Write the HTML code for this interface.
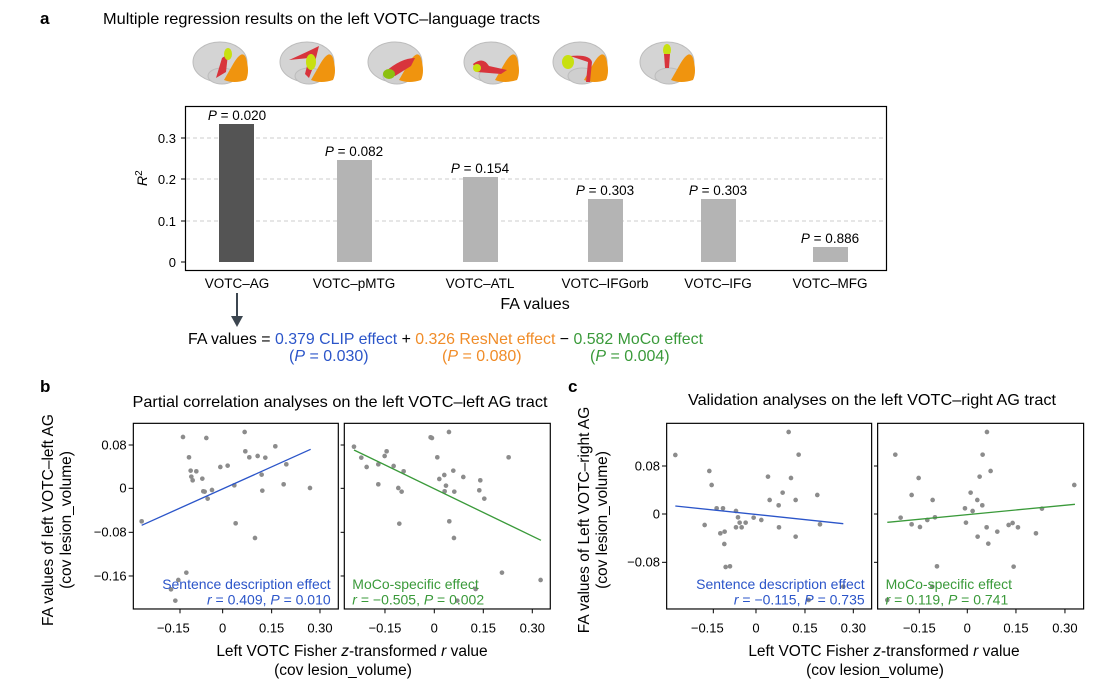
<!DOCTYPE html>
<html><head><meta charset="utf-8"><style>
body{margin:0;background:#fff;}
svg{display:block;font-family:"Liberation Sans",sans-serif;}
</style></head><body>
<svg width="1108" height="684" viewBox="0 0 1108 684" xmlns="http://www.w3.org/2000/svg">
<defs>
<g id="brain">
<ellipse cx="0" cy="0" rx="27" ry="20" fill="#d4d4d4" stroke="#bcbcbc"/>
<ellipse cx="2" cy="14" rx="14" ry="8" fill="#cfcfcf" stroke="#bcbcbc"/>
<path d="M12,4 Q22,-14 26,-4 Q30,10 26,18 Q14,22 4,18 Z" fill="#f0940e"/>
</g>
</defs>
<g transform="translate(220,62)"><use href="#brain"/><path d="M2,-4 L8,-8 L6,10 L-4,16 Z" fill="#d8343c"/><ellipse cx="8" cy="-8" rx="4" ry="6" fill="#c8e010"/></g>
<g transform="translate(307,62)"><use href="#brain"/><path d="M-18,-2 Q0,-10 12,-16 L8,0 L2,16 L-2,12 L2,-4 Z" fill="#d8343c"/><ellipse cx="4" cy="0" rx="5" ry="8" fill="#c8e010"/></g>
<g transform="translate(395,62)"><use href="#brain"/><path d="M-10,10 Q6,-4 20,-4 L16,4 L0,14 Z" fill="#d8343c"/><ellipse cx="-6" cy="12" rx="6" ry="5" fill="#8cc010"/></g>
<g transform="translate(491,62)"><use href="#brain"/><path d="M-18,2 Q-8,-6 -2,4 L16,8 L10,12 L-14,10 Z" fill="#d8343c"/><ellipse cx="-14" cy="6" rx="4" ry="4" fill="#c8e010"/></g>
<g transform="translate(580,62)"><use href="#brain"/><path d="M-10,-6 Q10,-8 12,0 L10,20 L6,20 L8,0 Z" fill="#d8343c"/><ellipse cx="-12" cy="0" rx="6" ry="7" fill="#c8e010"/></g>
<g transform="translate(667,62)"><use href="#brain"/><ellipse cx="0" cy="-12" rx="4" ry="6" fill="#c8e010"/><path d="M-3,-8 L3,-8 L2,6 L-2,6 Z" fill="#d8343c"/></g>

<text x="40" y="24" font-size="17" font-weight="bold">a</text>
<text x="103" y="24" font-size="16" textLength="437" lengthAdjust="spacingAndGlyphs">Multiple regression results on the left VOTC–language tracts</text>

<rect x="185.5" y="106.5" width="701" height="164" fill="none" stroke="#000" stroke-width="1.2"/>
<g stroke="#ccc" stroke-dasharray="4,3"><line x1="186" x2="886" y1="221" y2="221"/><line x1="186" x2="886" y1="179" y2="179"/><line x1="186" x2="886" y1="138" y2="138"/></g>
<g stroke="#000"><line x1="181" x2="186" y1="262" y2="262"/><line x1="181" x2="186" y1="221" y2="221"/><line x1="181" x2="186" y1="179" y2="179"/><line x1="181" x2="186" y1="138" y2="138"/></g>
<g font-size="13" text-anchor="end"><text x="176" y="267">0</text><text x="176" y="226">0.1</text><text x="176" y="184">0.2</text><text x="176" y="143">0.3</text></g>
<text transform="translate(147,186) rotate(-90)" font-size="14" font-style="italic">R<tspan font-size="10" dy="-5" font-style="normal">2</tspan></text>
<rect x="219" y="124" width="35" height="138" fill="#545454"/>
<rect x="337" y="160" width="35" height="102" fill="#b4b4b4"/>
<rect x="463" y="177" width="35" height="85" fill="#b4b4b4"/>
<rect x="588" y="199" width="35" height="63" fill="#b4b4b4"/>
<rect x="701" y="199" width="35" height="63" fill="#b4b4b4"/>
<rect x="813" y="247" width="35" height="15" fill="#b4b4b4"/>
<g font-size="13.5" text-anchor="middle">
<text x="237" y="120"><tspan font-style="italic">P</tspan> = 0.020</text>
<text x="354" y="156"><tspan font-style="italic">P</tspan> = 0.082</text>
<text x="480" y="173"><tspan font-style="italic">P</tspan> = 0.154</text>
<text x="605" y="195"><tspan font-style="italic">P</tspan> = 0.303</text>
<text x="718" y="195"><tspan font-style="italic">P</tspan> = 0.303</text>
<text x="830" y="243"><tspan font-style="italic">P</tspan> = 0.886</text>
<text x="237" y="288">VOTC–AG</text><text x="354" y="288">VOTC–pMTG</text><text x="480" y="288">VOTC–ATL</text>
<text x="605" y="288">VOTC–IFGorb</text><text x="718" y="288">VOTC–IFG</text><text x="830" y="288">VOTC–MFG</text>
<text x="535" y="309" font-size="16">FA values</text>
</g>
<line x1="237" y1="293" x2="237" y2="318" stroke="#3c4650" stroke-width="2"/>
<path d="M231,316 L243,316 L237,327 Z" fill="#3c4650"/>
<g font-size="16">
<text x="188" y="344" textLength="515" lengthAdjust="spacingAndGlyphs">FA values = <tspan fill="#2b55c9">0.379 CLIP effect</tspan> + <tspan fill="#f08c28">0.326 ResNet effect</tspan> − <tspan fill="#3a9a3a">0.582 MoCo effect</tspan></text>
<text x="289" y="361" fill="#2b55c9">(<tspan font-style="italic">P</tspan> = 0.030)</text>
<text x="442" y="361" fill="#f08c28">(<tspan font-style="italic">P</tspan> = 0.080)</text>
<text x="590" y="361" fill="#3a9a3a">(<tspan font-style="italic">P</tspan> = 0.004)</text>
</g>

<text x="40" y="392" font-size="17" font-weight="bold">b</text>
<text x="340" y="407" font-size="16" text-anchor="middle" textLength="415" lengthAdjust="spacingAndGlyphs">Partial correlation analyses on the left VOTC–left AG tract</text>
<text transform="translate(53,520) rotate(-90)" font-size="15.5" text-anchor="middle">FA values of left VOTC–left AG</text>
<text transform="translate(71,520) rotate(-90)" font-size="15.5" text-anchor="middle">(cov lesion_volume)</text>
<text x="352" y="656" font-size="15.5" text-anchor="middle">Left VOTC Fisher <tspan font-style="italic">z</tspan>-transformed <tspan font-style="italic">r</tspan> value</text>
<text x="343" y="675" font-size="15.5" text-anchor="middle">(cov lesion_volume)</text>
<g transform="translate(90,410) scale(0.3333)">
<rect x="130" y="40" width="615" height="557" fill="none" stroke="#000" stroke-width="3.5"/>
<rect x="763" y="40" width="618" height="557" fill="none" stroke="#000" stroke-width="3.5"/>
<g stroke="#000" stroke-width="3">
<line x1="116" x2="130" y1="105" y2="105"/><line x1="116" x2="130" y1="235" y2="235"/><line x1="116" x2="130" y1="367" y2="367"/><line x1="116" x2="130" y1="498" y2="498"/>
<line x1="752" x2="763" y1="105" y2="105"/><line x1="752" x2="763" y1="235" y2="235"/><line x1="752" x2="763" y1="367" y2="367"/><line x1="752" x2="763" y1="498" y2="498"/>
<line x1="270" x2="270" y1="597" y2="610"/><line x1="398" x2="398" y1="597" y2="610"/><line x1="545" x2="545" y1="597" y2="610"/><line x1="690" x2="690" y1="597" y2="610"/>
<line x1="885" x2="885" y1="597" y2="610"/><line x1="1033" x2="1033" y1="597" y2="610"/><line x1="1180" x2="1180" y1="597" y2="610"/><line x1="1327" x2="1327" y1="597" y2="610"/>
</g>
<g font-size="39" text-anchor="end"><text x="110" y="118">0.08</text><text x="110" y="248">0</text><text x="110" y="380">−0.08</text><text x="110" y="511">−0.16</text></g>
<g font-size="39" text-anchor="middle"><text x="250" y="668">−0.15</text><text x="398" y="668">0</text><text x="545" y="668">0.15</text><text x="690" y="668">0.30</text>
<text x="885" y="668">−0.15</text><text x="1033" y="668">0</text><text x="1180" y="668">0.15</text><text x="1327" y="668">0.30</text></g>
<g fill="#8c8c8c">
<circle cx="155" cy="334" r="7"/><circle cx="279" cy="81" r="7"/><circle cx="297" cy="142" r="7"/><circle cx="302" cy="182" r="7"/><circle cx="304" cy="200" r="7"/><circle cx="308" cy="211" r="7"/><circle cx="319" cy="184" r="7"/><circle cx="337" cy="206" r="7"/><circle cx="340" cy="244" r="7"/><circle cx="344" cy="245" r="7"/><circle cx="349" cy="84" r="7"/><circle cx="353" cy="266" r="7"/><circle cx="366" cy="240" r="7"/><circle cx="391" cy="171" r="7"/><circle cx="413" cy="167" r="7"/><circle cx="433" cy="226" r="7"/><circle cx="437" cy="340" r="7"/><circle cx="464" cy="66" r="7"/><circle cx="466" cy="124" r="7"/><circle cx="478" cy="142" r="7"/><circle cx="495" cy="384" r="7"/><circle cx="503" cy="138" r="7"/><circle cx="515" cy="194" r="7"/><circle cx="517" cy="242" r="7"/><circle cx="526" cy="143" r="7"/><circle cx="556" cy="109" r="7"/><circle cx="581" cy="223" r="7"/><circle cx="589" cy="163" r="7"/><circle cx="660" cy="234" r="7"/><circle cx="289" cy="488" r="7"/><circle cx="265" cy="510" r="7"/><circle cx="243" cy="538" r="7"/><circle cx="256" cy="572" r="7"/>
<circle cx="792" cy="110" r="7"/><circle cx="814" cy="143" r="7"/><circle cx="830" cy="171" r="7"/><circle cx="865" cy="163" r="7"/><circle cx="865" cy="223" r="7"/><circle cx="884" cy="138" r="7"/><circle cx="890" cy="124" r="7"/><circle cx="911" cy="168" r="7"/><circle cx="925" cy="234" r="7"/><circle cx="928" cy="341" r="7"/><circle cx="935" cy="245" r="7"/><circle cx="941" cy="184" r="7"/><circle cx="1022" cy="82" r="7"/><circle cx="1026" cy="84" r="7"/><circle cx="1042" cy="142" r="7"/><circle cx="1048" cy="207" r="7"/><circle cx="1063" cy="195" r="7"/><circle cx="1064" cy="244" r="7"/><circle cx="1068" cy="227" r="7"/><circle cx="1077" cy="66" r="7"/><circle cx="1078" cy="334" r="7"/><circle cx="1090" cy="182" r="7"/><circle cx="1092" cy="384" r="7"/><circle cx="1093" cy="245" r="7"/><circle cx="1120" cy="201" r="7"/><circle cx="1168" cy="241" r="7"/><circle cx="1171" cy="211" r="7"/><circle cx="1183" cy="266" r="7"/><circle cx="1236" cy="488" r="7"/><circle cx="1256" cy="142" r="7"/><circle cx="1352" cy="510" r="7"/><circle cx="1157" cy="537" r="7"/><circle cx="1102" cy="572" r="7"/>
</g>
<line x1="155" y1="346" x2="662" y2="118" stroke="#2b55c9" stroke-width="4"/>
<line x1="792" y1="120" x2="1353" y2="391" stroke="#3a9a3a" stroke-width="4"/>
<text x="722" y="537" font-size="42" fill="#2b55c9" text-anchor="end">Sentence description effect</text>
<text x="722" y="583" font-size="42" fill="#2b55c9" text-anchor="end"><tspan font-style="italic">r</tspan> = 0.409, <tspan font-style="italic">P</tspan> = 0.010</text>
<text x="787" y="537" font-size="42" fill="#3a9a3a">MoCo-specific effect</text>
<text x="787" y="583" font-size="42" fill="#3a9a3a"><tspan font-style="italic">r</tspan> = −0.505, <tspan font-style="italic">P</tspan> = 0.002</text>
</g>

<text x="568" y="392" font-size="17" font-weight="bold">c</text>
<text x="872" y="405" font-size="16" text-anchor="middle" textLength="368" lengthAdjust="spacingAndGlyphs">Validation analyses on the left VOTC–right AG tract</text>
<text transform="translate(589,520) rotate(-90)" font-size="15.5" text-anchor="middle">FA values of Left VOTC–right AG</text>
<text transform="translate(607,520) rotate(-90)" font-size="15.5" text-anchor="middle">(cov lesion_volume)</text>
<text x="884" y="656" font-size="15.5" text-anchor="middle">Left VOTC Fisher <tspan font-style="italic">z</tspan>-transformed <tspan font-style="italic">r</tspan> value</text>
<text x="875" y="675" font-size="15.5" text-anchor="middle">(cov lesion_volume)</text>
<g transform="translate(570,410) scale(0.3333)">
<rect x="290" y="40" width="615" height="557" fill="none" stroke="#000" stroke-width="3.5"/>
<rect x="923" y="40" width="618" height="557" fill="none" stroke="#000" stroke-width="3.5"/>
<g stroke="#000" stroke-width="3">
<line x1="276" x2="290" y1="168" y2="168"/><line x1="276" x2="290" y1="312" y2="312"/><line x1="276" x2="290" y1="457" y2="457"/>
<line x1="912" x2="923" y1="168" y2="168"/><line x1="912" x2="923" y1="312" y2="312"/><line x1="912" x2="923" y1="457" y2="457"/>
<line x1="430" x2="430" y1="597" y2="610"/><line x1="558" x2="558" y1="597" y2="610"/><line x1="705" x2="705" y1="597" y2="610"/><line x1="850" x2="850" y1="597" y2="610"/>
<line x1="1048" x2="1048" y1="597" y2="610"/><line x1="1192" x2="1192" y1="597" y2="610"/><line x1="1338" x2="1338" y1="597" y2="610"/><line x1="1485" x2="1485" y1="597" y2="610"/>
</g>
<g font-size="39" text-anchor="end"><text x="270" y="181">0.08</text><text x="270" y="325">0</text><text x="270" y="470">−0.08</text></g>
<g font-size="39" text-anchor="middle"><text x="412" y="668">−0.15</text><text x="558" y="668">0</text><text x="705" y="668">0.15</text><text x="850" y="668">0.30</text>
<text x="1048" y="668">−0.15</text><text x="1192" y="668">0</text><text x="1338" y="668">0.15</text><text x="1485" y="668">0.30</text></g>
<g fill="#8c8c8c">
<circle cx="316" cy="135" r="7"/><circle cx="404" cy="345" r="7"/><circle cx="418" cy="183" r="7"/><circle cx="425" cy="225" r="7"/><circle cx="440" cy="295" r="7"/><circle cx="451" cy="370" r="7"/><circle cx="459" cy="295" r="7"/><circle cx="463" cy="402" r="7"/><circle cx="464" cy="365" r="7"/><circle cx="467" cy="471" r="7"/><circle cx="480" cy="469" r="7"/><circle cx="498" cy="303" r="7"/><circle cx="498" cy="352" r="7"/><circle cx="504" cy="322" r="7"/><circle cx="509" cy="338" r="7"/><circle cx="515" cy="352" r="7"/><circle cx="527" cy="338" r="7"/><circle cx="551" cy="323" r="7"/><circle cx="574" cy="330" r="7"/><circle cx="594" cy="200" r="7"/><circle cx="599" cy="270" r="7"/><circle cx="626" cy="286" r="7"/><circle cx="627" cy="352" r="7"/><circle cx="638" cy="248" r="7"/><circle cx="656" cy="66" r="7"/><circle cx="663" cy="204" r="7"/><circle cx="677" cy="270" r="7"/><circle cx="677" cy="380" r="7"/><circle cx="686" cy="134" r="7"/><circle cx="742" cy="255" r="7"/><circle cx="750" cy="343" r="7"/><circle cx="716" cy="570" r="7"/><circle cx="820" cy="530" r="7"/>
<circle cx="976" cy="134" r="7"/><circle cx="992" cy="323" r="7"/><circle cx="1025" cy="255" r="7"/><circle cx="1025" cy="343" r="7"/><circle cx="1046" cy="204" r="7"/><circle cx="1050" cy="351" r="7"/><circle cx="1072" cy="330" r="7"/><circle cx="1088" cy="270" r="7"/><circle cx="1095" cy="322" r="7"/><circle cx="1101" cy="469" r="7"/><circle cx="1087" cy="530" r="7"/><circle cx="1185" cy="295" r="7"/><circle cx="1188" cy="338" r="7"/><circle cx="1202" cy="248" r="7"/><circle cx="1208" cy="303" r="7"/><circle cx="1222" cy="270" r="7"/><circle cx="1223" cy="380" r="7"/><circle cx="1229" cy="200" r="7"/><circle cx="1237" cy="286" r="7"/><circle cx="1238" cy="134" r="7"/><circle cx="1250" cy="352" r="7"/><circle cx="1251" cy="66" r="7"/><circle cx="1255" cy="401" r="7"/><circle cx="1262" cy="183" r="7"/><circle cx="1282" cy="365" r="7"/><circle cx="1316" cy="345" r="7"/><circle cx="1328" cy="339" r="7"/><circle cx="1331" cy="470" r="7"/><circle cx="1344" cy="352" r="7"/><circle cx="1398" cy="370" r="7"/><circle cx="1416" cy="296" r="7"/><circle cx="1513" cy="225" r="7"/><circle cx="952" cy="570" r="7"/>
</g>
<line x1="316" y1="288" x2="820" y2="341" stroke="#2b55c9" stroke-width="4"/>
<line x1="952" y1="337" x2="1515" y2="283" stroke="#3a9a3a" stroke-width="4"/>
<text x="884" y="537" font-size="42" fill="#2b55c9" text-anchor="end">Sentence description effect</text>
<text x="884" y="583" font-size="42" fill="#2b55c9" text-anchor="end"><tspan font-style="italic">r</tspan> = −0.115, <tspan font-style="italic">P</tspan> = 0.735</text>
<text x="947" y="537" font-size="42" fill="#3a9a3a">MoCo-specific effect</text>
<text x="947" y="583" font-size="42" fill="#3a9a3a"><tspan font-style="italic">r</tspan> = 0.119, <tspan font-style="italic">P</tspan> = 0.741</text>
</g>
</svg>
</body></html>
